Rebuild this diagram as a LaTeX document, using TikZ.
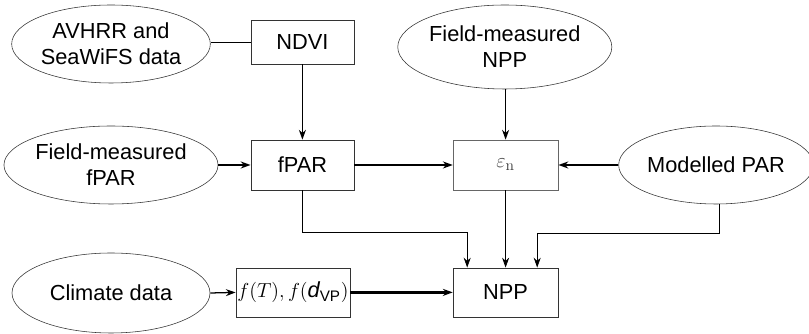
\documentclass[tikz,border=0pt]{standalone}
\usepackage{amsmath}
\usepackage{fontspec}
\setmainfont{Liberation Sans}
\usetikzlibrary{arrows.meta,calc,shapes.geometric}

\begin{document}
\begin{tikzpicture}[
  font=\fontsize{15.5}{18.5}\selectfont,
  src/.style={ellipse,draw=black!80,line width=0.4pt,inner sep=0pt,align=center},
  box/.style={rectangle,draw=black!80,line width=0.5pt,inner sep=0pt,align=center},
  lin/.style={line width=0.5pt},
  arr/.style={line width=0.9pt,-{Stealth[length=7pt,width=5pt]}},
  thk/.style={line width=1.6pt,-{Stealth[length=7pt,width=5pt]}},
  tarr/.style={line width=0.5pt,-{Stealth[length=7pt,width=5pt]}}]
\useasboundingbox (0,0) rectangle (20.225,8.35);
% sources
\node[src,minimum width=4.95cm,minimum height=1.95cm] (avhrr) at (2.775,7.25) {AVHRR and\\SeaWiFS data};
\node[src,minimum width=4.95cm,minimum height=1.95cm] (ffpar) at (2.775,4.225) {Field-measured\\fPAR};
\node[src,minimum width=4.65cm,minimum height=2.1cm] (fnpp) at (12.62,7.175) {Field-measured\\NPP};
\node[src,minimum width=4.7cm,minimum height=1.95cm] (mpar) at (17.9,4.225) {Modelled PAR};
\node[src,minimum width=4.95cm,minimum height=2cm] (clim) at (2.775,1.025) {Climate data};
% processing boxes
\node[box,minimum width=2.575cm,minimum height=1.1cm] (ndvi) at (7.56,7.3) {NDVI};
\node[box,minimum width=2.575cm,minimum height=1.25cm] (fpar) at (7.56,4.225) {fPAR};
\node[box,draw=black!60,minimum width=2.625cm,minimum height=1.25cm] (eps) at (12.64,4.225)
  {\textcolor{black!75}{$\varepsilon_{\text{\fontfamily{lmr}\selectfont n}}$}};
\node[box,minimum width=2.85cm,minimum height=1.225cm] (fclim) at (7.325,1.04) {$f(T), f(\textit{d}_{\text{VP}})$};
\node[box,minimum width=2.625cm,minimum height=1.225cm] (npp) at (12.64,1.04) {NPP};
% connectors
\draw[lin] (avhrr.east |- ndvi.west) -- (ndvi.west);
\draw[arr] (ndvi.south) -- (fpar.north);
\draw[thk] (ffpar.east) -- (fpar.west);
\draw[thk] (fpar.east) -- (eps.west);
\draw[arr] (eps.north |- fnpp.south) -- (eps.north);
\draw[thk] (mpar.west) -- (eps.east);
\draw[tarr] (fpar.south) -- ++(0,-1.05) -| ($(npp.north)+(-0.96,0)$);
\draw[tarr] (eps.south) -- (npp.north);
\draw[tarr] ($(mpar.south)+(0.08,0)$) -- ++(0,-0.73) -| ($(npp.north)+(0.79,0)$);
\draw[arr] (clim.east) -- (fclim.west);
\draw[thk] (fclim.east) -- (npp.west);
\end{tikzpicture}
\end{document}
